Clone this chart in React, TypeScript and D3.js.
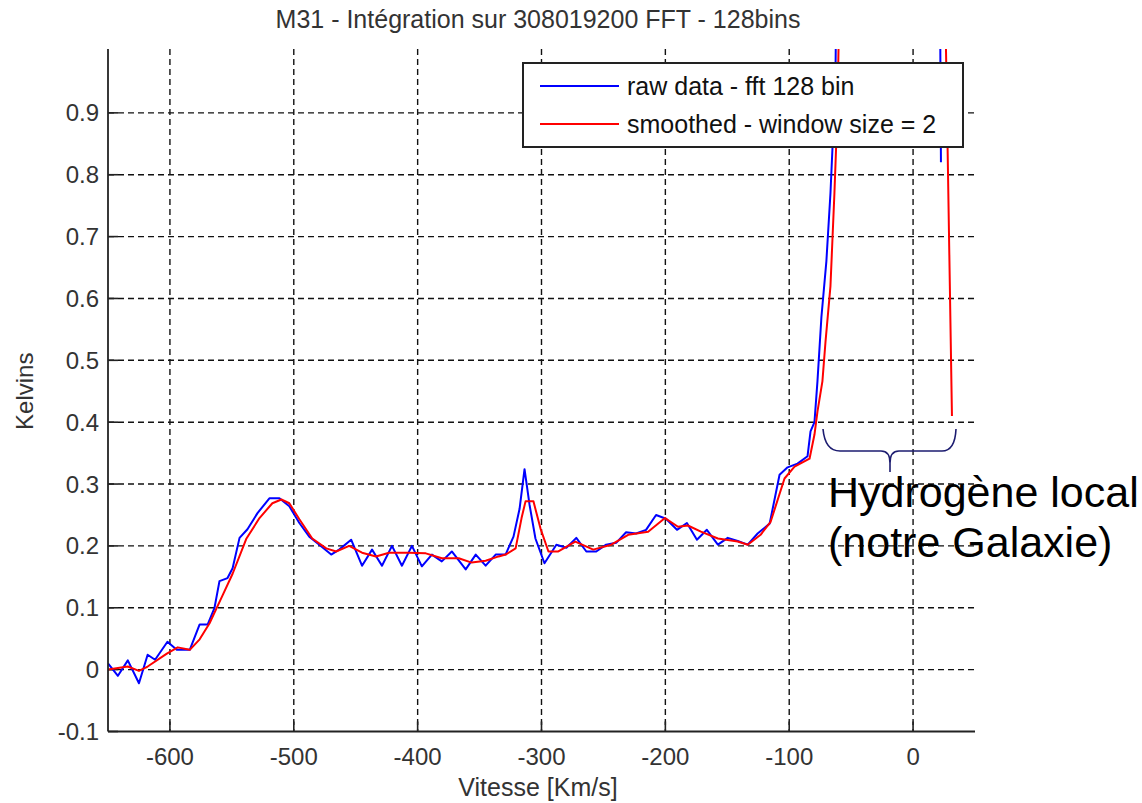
import React from "react";
import * as d3 from "d3";

const TITLE = "M31 - Intégration sur 308019200 FFT - 128bins";
const X_LABEL = "Vitesse [Km/s]";
const Y_LABEL = "Kelvins";
const LEGEND = ["raw data - fft 128 bin", "smoothed - window size = 2"];
const ANNOT = ["Hydrogène local", "(notre Galaxie)"];

const xTicks = [-600, -500, -400, -300, -200, -100, 0];
const yTicks = [-0.1, 0, 0.1, 0.2, 0.3, 0.4, 0.5, 0.6, 0.7, 0.8, 0.9];
const yTickLabels = ["-0.1", "0", "0.1", "0.2", "0.3", "0.4", "0.5", "0.6", "0.7", "0.8", "0.9"];

const rawV = [
  -650, -642, -634, -625, -618, -612, -602, -594.5, -584, -576, -569.5, -564, -560, -553.5, -549.4,
  -543.8, -537.4, -529.3, -519.7, -511.6, -503.6, -495.5, -487.5, -479.4, -469.8, -463.4, -453.7,
  -444.9, -436.8, -428.8, -420.7, -412.7, -404.6, -396.6, -388.5, -380.5, -372.4, -361.2, -353.1,
  -345.1, -337, -329, -322.6, -317.7, -313.7, -309.7, -304.9, -297.6, -288, -279.9, -271.9, -263.8,
  -255.8, -247.8, -239.7, -231.7, -223.6, -215.6, -207.5, -199.5, -190.6, -182.6, -174.5, -166.5,
  -157.6, -149.6, -141.6, -133.5, -125.5, -115.8, -107.8, -101.3, -93.3, -85.2, -82.8, -79.6, -77.2,
  -74, -70, -66.7, -62.7, -55, -40, -20, 0, 17, 22.5,
];
const rawK = [
  0.01, -0.01, 0.015, -0.022, 0.024, 0.016, 0.045, 0.032, 0.032, 0.073, 0.073, 0.1, 0.143, 0.148, 0.164,
  0.213, 0.227, 0.253, 0.277, 0.277, 0.264, 0.237, 0.215, 0.202, 0.186, 0.194, 0.21,
  0.168, 0.194, 0.168, 0.2, 0.168, 0.2, 0.167, 0.186, 0.175, 0.191, 0.162, 0.186,
  0.168, 0.186, 0.186, 0.215, 0.26, 0.324, 0.267, 0.212, 0.172, 0.202, 0.197, 0.213, 0.191,
  0.191, 0.202, 0.205, 0.222, 0.22, 0.226, 0.25, 0.244, 0.226, 0.237, 0.21, 0.226,
  0.202, 0.213, 0.208, 0.202, 0.22, 0.236, 0.315, 0.327, 0.333, 0.345, 0.385, 0.4, 0.466,
  0.57, 0.66, 0.77, 0.95, 2.5, 4.5, 5, 4.5, 2.8, 0.82,
];

const smoothV = [
  -650, -634, -625, -618, -602.5, -593.7, -584, -576, -568, -557.5, -549.4, -538.2, -527.7, -517.3,
  -510, -503.6, -495.5, -485.1, -473.8, -465.8, -455.3, -444.9, -433.6, -423.1, -407, -393.4, -380.5,
  -366.8, -356.4, -345.1, -334.6, -329, -320.9, -316.1, -312.9, -306.5, -300.8, -294.4, -286.4,
  -272.7, -258.2, -243.7, -230, -213.9, -200.3, -189.8, -181.8, -171.3, -157.6, -141.6, -133.5,
  -123.1, -115, -103.8, -95.7, -83.6, -79.6, -77.2, -73.2, -70.7, -66.7, -63.5, -61.1, -55, -40,
  -20, 0, 15, 24, 31.4,
];
const smoothK = [
  0, 0.005, -0.002, 0.005, 0.026, 0.036, 0.032, 0.049, 0.075, 0.12, 0.155, 0.212, 0.245, 0.269,
  0.275, 0.269, 0.243, 0.212, 0.196, 0.191, 0.2, 0.189, 0.183, 0.189, 0.189, 0.188, 0.18,
  0.18, 0.173, 0.176, 0.183, 0.186, 0.196, 0.245, 0.272, 0.272, 0.228, 0.191, 0.191,
  0.207, 0.194, 0.202, 0.218, 0.223, 0.245, 0.231, 0.233, 0.223, 0.212, 0.207, 0.202,
  0.218, 0.239, 0.309, 0.328, 0.341, 0.38, 0.417, 0.466, 0.53, 0.62, 0.77, 0.9, 1.6, 4,
  4.8, 4.6, 3.2, 1.32, 0.41,
];

const FONT = "'Liberation Sans', Arial, sans-serif";
const TEXT = "#333";

export default function App() {
  const left = 108, right = 975, top = 51, bottom = 731.5;
  const x = d3.scaleLinear().domain([-650, 50]).range([left, right]);
  const y = d3.scaleLinear().domain([-0.1, 1.0]).range([bottom, top]);

  const line = d3
    .line<[number, number]>()
    .x((d) => x(d[0]))
    .y((d) => y(d[1]));

  const rawPts = rawV.map((v, i) => [v, rawK[i]] as [number, number]);
  const smPts = smoothV.map((v, i) => [v, smoothK[i]] as [number, number]);

  const gridStyle = { stroke: "#111", strokeWidth: 1.4, strokeDasharray: "6,4" };

  return (
    <svg
      width={1142}
      height={803}
      style={{ position: "absolute", left: 0, top: 0, background: "#fff" }}
      fontFamily={FONT}
    >
      <rect x={0} y={0} width={1142} height={803} fill="#fff" />
      <defs>
        <clipPath id="plotclip">
          <rect x={left} y={top - 2} width={right - left} height={bottom - top + 2} />
        </clipPath>
      </defs>
      <text x={538} y={28} textAnchor="middle" fontSize={25} fill={TEXT}>
        {TITLE}
      </text>

      {xTicks.map((t) => (
        <line key={"gx" + t} x1={x(t)} x2={x(t)} y1={top - 2} y2={bottom} {...gridStyle} />
      ))}
      {yTicks
        .filter((t) => t > -0.1)
        .map((t) => (
          <line key={"gy" + t} x1={left} x2={right} y1={y(t)} y2={y(t)} {...gridStyle} />
        ))}

      {xTicks.map((t) => (
        <line key={"tx" + t} x1={x(t)} x2={x(t)} y1={bottom} y2={bottom - 10} stroke="#222" strokeWidth={1.6} />
      ))}
      {yTicks.map((t) => (
        <line key={"ty" + t} x1={left} x2={left + 10} y1={y(t)} y2={y(t)} stroke="#222" strokeWidth={1.6} />
      ))}

      <g clipPath="url(#plotclip)">
        <path d={line(rawPts) || ""} fill="none" stroke="#0000ff" strokeWidth={2} strokeLinejoin="round" />
        <path d={line(smPts) || ""} fill="none" stroke="#ff0000" strokeWidth={2} strokeLinejoin="round" />
      </g>

      <line x1={left} x2={left} y1={top - 2} y2={bottom} stroke="#222" strokeWidth={1.8} />
      <line x1={left} x2={right} y1={bottom} y2={bottom} stroke="#222" strokeWidth={1.8} />

      {xTicks.map((t) => (
        <text key={"lx" + t} x={x(t)} y={765} textAnchor="middle" fontSize={24} fill={TEXT}>
          {String(t)}
        </text>
      ))}
      {yTicks.map((t, i) => (
        <text key={"ly" + t} x={99} y={y(t) + 8.5} textAnchor="end" fontSize={24} fill={TEXT}>
          {yTickLabels[i]}
        </text>
      ))}

      <text x={538} y={796} textAnchor="middle" fontSize={25} fill={TEXT}>
        {X_LABEL}
      </text>
      <text
        x={0}
        y={0}
        transform={`translate(33, ${(top + bottom) / 2}) rotate(-90)`}
        textAnchor="middle"
        fontSize={24}
        fill={TEXT}
      >
        {Y_LABEL}
      </text>

      <rect x={523} y={63} width={440} height={84} fill="#fff" stroke="#222" strokeWidth={2} />
      <line x1={540} x2={619} y1={86} y2={86} stroke="#0000ff" strokeWidth={2} />
      <line x1={540} x2={619} y1={124} y2={124} stroke="#ff0000" strokeWidth={2} />
      <text x={627} y={95} fontSize={25} fill="#111">
        {LEGEND[0]}
      </text>
      <text x={627} y={133} fontSize={25} fill="#111">
        {LEGEND[1]}
      </text>

      <path
        d="M823,429 Q825,451 840,451 L881,451 Q890,451 890,463 L890,472 M890,463 Q890,451 899,451 L942,451 Q955,451 956,429"
        fill="none"
        stroke="#1c1c70"
        strokeWidth={1.6}
      />
      <text x={828} y={507} fontSize={43} fill="#000">
        {ANNOT[0]}
      </text>
      <text x={828} y={557} fontSize={43} fill="#000">
        {ANNOT[1]}
      </text>
    </svg>
  );
}
